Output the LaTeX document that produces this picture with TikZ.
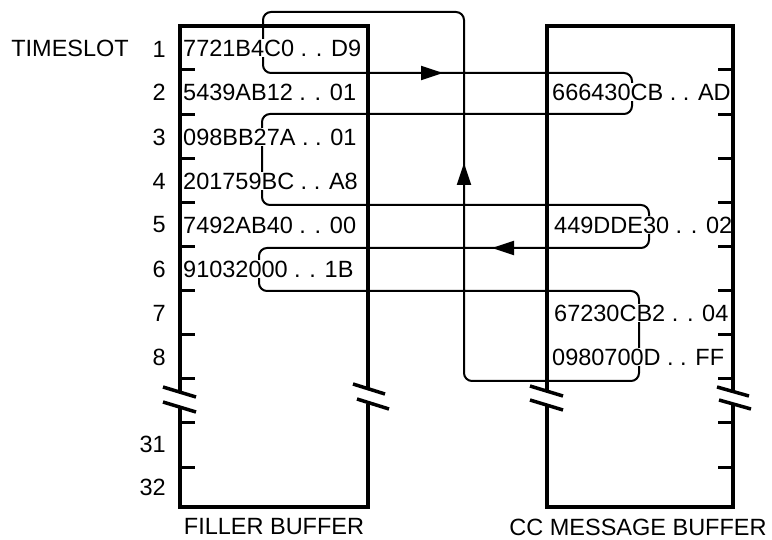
\documentclass[tikz,border=0pt]{standalone}
\usepackage{fontspec}
\setmainfont{Liberation Sans}
\usetikzlibrary{arrows.meta}
\begin{document}
\begin{tikzpicture}[x=1pt,y=-1pt,
  txt/.style={font=\fontsize{23.5}{28}\selectfont, inner sep=1pt},
  data/.style={txt, anchor=west, fill=white},
  boxline/.style={line width=4pt},
  slash/.style={line width=3.5pt},
  tickmark/.style={line width=3pt},
  link/.style={line width=2pt, rounded corners=8pt},
  arr/.style={line width=2pt, -{Triangle[length=22pt,width=14pt]}}]
\useasboundingbox (0,0) rectangle (772,540);

% connector loop
\coordinate (m) at (360,12);
\coordinate (a1) at (263,12);  \coordinate (a2) at (263,73);
\coordinate (b1) at (632,73);  \coordinate (b2) at (632,114);
\coordinate (c1) at (262,114); \coordinate (c2) at (262,205);
\coordinate (d1) at (649,205); \coordinate (d2) at (649,248);
\coordinate (e1) at (259,248); \coordinate (e2) at (259,291);
\coordinate (f1) at (639,291); \coordinate (f2) at (639,381);
\coordinate (g1) at (464,381); \coordinate (g2) at (464,12);
\draw[link] (m) -- (a1) -- (a2) -- (b1) -- (b2) -- (c1) -- (c2) -- (d1) -- (d2)
  -- (e1) -- (e2) -- (f1) -- (f2) -- (g1) -- (g2) -- cycle;
\coordinate (r0) at (421,73);  \coordinate (r1) at (443,73);
\coordinate (l0) at (514,248); \coordinate (l1) at (492,248);
\coordinate (u0) at (464,185); \coordinate (u1) at (464,163);
\draw[arr] (r0) -- (r1);
\draw[arr] (l0) -- (l1);
\draw[arr] (u0) -- (u1);

% data texts
\node[data] (f1t) at (182,48)  {7721B4C0 . . D9};
\node[data] (f2t) at (182,92)  {5439AB12 . . 01};
\node[data] (f3t) at (182,137) {098BB27A . . 01};
\node[data] (f4t) at (182,181) {201759BC . . A8};
\node[data] (f5t) at (182,225) {7492AB40 . . 00};
\node[data] (f6t) at (182,269) {91032000 . . 1B};
\node[data] (c2t) at (551,92)  {666430CB . . AD};
\node[data] (c5t) at (553,225) {449DDE30 . . 02};
\node[data] (c7t) at (553,313) {67230CB2 . . 04};
\node[data] (c8t) at (551,357) {0980700D . . FF};

% labels
\node[txt, anchor=east] (ts) at (130,48) {TIMESLOT};
\foreach \n/\y in {1/49,2/92,3/137,4/181,5/225,6/269,7/313,8/357,31/444,32/487}
  \node[txt, anchor=east] (n\n) at (167,\y) {\n};
\node[txt] (fb) at (274,527) {FILLER BUFFER};
\node[txt] (cb) at (638,527) {CC MESSAGE BUFFER};

% filler buffer
\draw[boxline] (180,392) -- (180,26) -- (368,26) -- (368,389);
\draw[boxline] (180,407) -- (180,507) -- (368,507) -- (368,404);
\draw[slash] (163,387) -- (196,397);
\draw[slash] (163,402) -- (196,412);
\draw[slash] (353,384) -- (385,394);
\draw[slash] (357,399) -- (389,409);
% cc buffer
\draw[boxline] (547,391) -- (547,26) -- (733,26) -- (733,391);
\draw[boxline] (547,405) -- (547,507) -- (733,507) -- (733,404);
\draw[slash] (530,386) -- (563,396);
\draw[slash] (530,400) -- (563,410);
\draw[slash] (717,387) -- (749,396);
\draw[slash] (719,400) -- (751,409);
% ticks
\foreach \y in {70,114.5,159,203,247,291,335,379,422,467}{
  \draw[tickmark] (180,\y) -- (195,\y);
  \draw[tickmark] (718,\y) -- (733,\y);
}
\end{tikzpicture}
\end{document}
